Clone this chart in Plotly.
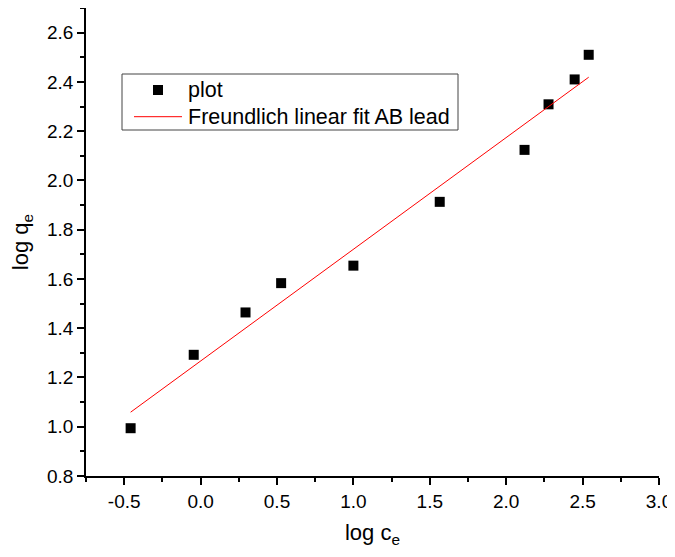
import plotly.graph_objects as go

# data
log_ce = [-0.458, -0.045, 0.294, 0.527, 1.00, 1.565, 2.12, 2.277, 2.448, 2.54]
log_qe = [0.994, 1.292, 1.464, 1.583, 1.654, 1.913, 2.124, 2.309, 2.41, 2.51]
fit_x = [-0.458, 2.54]
fit_y = [1.059, 2.419]

x_ticks = [-0.5, 0.0, 0.5, 1.0, 1.5, 2.0, 2.5, 3.0]
y_ticks = [0.8, 1.0, 1.2, 1.4, 1.6, 1.8, 2.0, 2.2, 2.4, 2.6]

series_names = ["plot", "Freundlich linear fit AB lead"]

FONT = "Arial, 'Liberation Sans', sans-serif"

# the page body adds an 8px offset, so the figure is 8px smaller than the window
OFF = 8
W, H = 675 - OFF, 557 - OFF
ML, MR, MT, MB = 86 - OFF, 16, 0, 81
PW, PH = W - ML - MR, H - MT - MB


def px(xs):
    # screen pixel x -> paper fraction
    return (xs - OFF - ML) / PW


def py(ys):
    # screen pixel y -> paper fraction
    return (H - MB - (ys - OFF)) / PH


fig = go.Figure()
fig.add_trace(go.Scatter(
    x=log_ce, y=log_qe, mode="markers", name=series_names[0],
    marker=dict(symbol="square", size=10, color="black", line=dict(width=0)),
    showlegend=False,
))
fig.add_trace(go.Scatter(
    x=fit_x, y=fit_y, mode="lines", name=series_names[1],
    line=dict(color="red", width=1),
    showlegend=False,
))

axis_common = dict(
    showline=True, linecolor="black", linewidth=1.5, mirror=False,
    showgrid=False, zeroline=False, automargin=False,
    ticks="outside", ticklen=7, tickwidth=1.5, tickcolor="black",
    tickfont=dict(family=FONT, size=19, color="black"),
)

fig.update_xaxes(
    range=[-0.75, 3.0], tickvals=x_ticks,
    ticktext=[f"{v:.1f}" for v in x_ticks],
    minor=dict(ticks="outside", ticklen=4, tickwidth=1.5, tickcolor="black", dtick=0.25, tick0=0, showgrid=False),
    title=dict(text="log c<sub>e</sub>", font=dict(family=FONT, size=22, color="black"), standoff=14),
    **axis_common,
)
fig.update_yaxes(
    range=[0.8, 2.7], tickvals=y_ticks,
    ticktext=[f"{v:.1f}" for v in y_ticks],
    minor=dict(ticks="outside", ticklen=4, tickwidth=1.5, tickcolor="black", dtick=0.1, tick0=0, showgrid=False),
    title=dict(text="log q<sub>e</sub>", font=dict(family=FONT, size=22, color="black"), standoff=18),
    **axis_common,
)

# hand-drawn legend box (paper coordinates)
shapes = [
    dict(type="rect", xref="paper", yref="paper",
         x0=px(122), x1=px(458), y0=py(130), y1=py(74),
         line=dict(color="#444", width=1), fillcolor="white", layer="above"),
    dict(type="rect", xref="paper", yref="paper",
         x0=px(153), x1=px(163), y0=py(95), y1=py(85),
         line=dict(width=0), fillcolor="black", layer="above"),
    dict(type="line", xref="paper", yref="paper",
         x0=px(134), x1=px(182), y0=py(116.7), y1=py(116.7),
         line=dict(color="red", width=1), layer="above"),
]
annotations = [
    dict(text=series_names[0], xref="paper", yref="paper", x=px(186), y=py(90),
         xanchor="left", yanchor="middle", showarrow=False,
         font=dict(family=FONT, size=21.5, color="black")),
    dict(text=series_names[1], xref="paper", yref="paper", x=px(186), y=py(117),
         xanchor="left", yanchor="middle", showarrow=False,
         font=dict(family=FONT, size=21.5, color="black")),
]

fig.update_layout(
    width=W, height=H,
    margin=dict(l=ML, r=MR, t=MT, b=MB),
    plot_bgcolor="white", paper_bgcolor="white",
    showlegend=False,
    shapes=shapes, annotations=annotations,
)

fig.write_html("out.html")
